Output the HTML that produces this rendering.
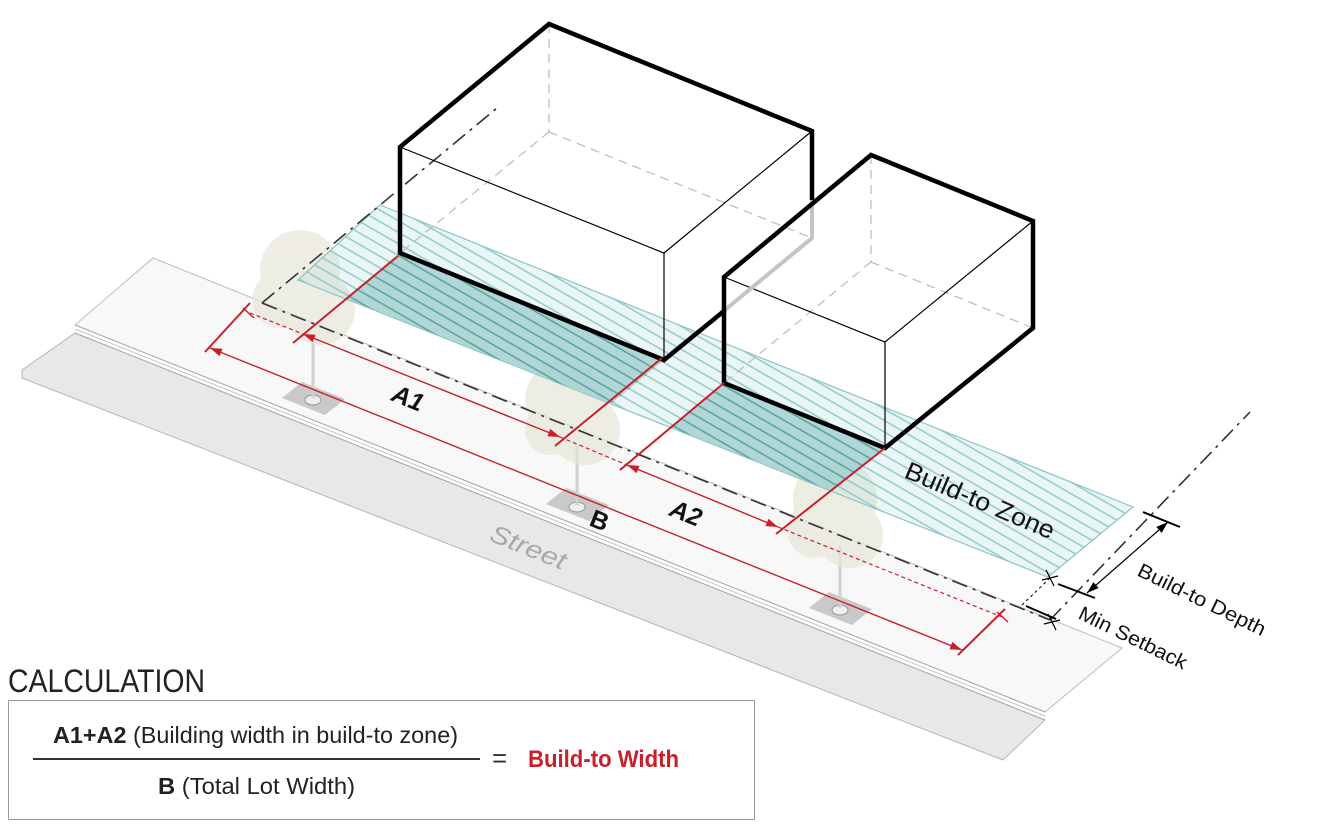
<!DOCTYPE html>
<html><head><meta charset="utf-8"><style>
html,body{margin:0;padding:0;background:#fff;width:1324px;height:825px;overflow:hidden}
svg{display:block}
</style></head><body>
<svg width="1324" height="825" viewBox="0 0 1324 825" xmlns="http://www.w3.org/2000/svg" font-family="'Liberation Sans',sans-serif">
<defs>
<pattern id="hl" patternUnits="userSpaceOnUse" width="10" height="10" patternTransform="rotate(30)">
<rect width="10" height="10" fill="rgba(170,215,215,0.25)"/><line x1="0" y1="2" x2="10" y2="2" stroke="#8cc6c6" stroke-width="1.4"/></pattern>
<pattern id="hd" patternUnits="userSpaceOnUse" width="10" height="10" patternTransform="rotate(30)">
<rect width="10" height="10" fill="#a9d3d2"/><line x1="0" y1="2" x2="10" y2="2" stroke="#509c9a" stroke-width="1.5"/></pattern>
<marker id="ar" markerWidth="12" markerHeight="8" refX="12" refY="4" orient="auto" markerUnits="userSpaceOnUse"><path d="M0,0 L12,4 L0,8z" fill="#c8202a"/></marker>
<marker id="al" markerWidth="12" markerHeight="8" refX="0" refY="4" orient="auto" markerUnits="userSpaceOnUse"><path d="M12,0 L0,4 L12,8z" fill="#c8202a"/></marker>
<marker id="kr" markerWidth="12" markerHeight="8" refX="12" refY="4" orient="auto" markerUnits="userSpaceOnUse"><path d="M0,0 L12,4 L0,8z" fill="#000"/></marker>
<marker id="kl" markerWidth="12" markerHeight="8" refX="0" refY="4" orient="auto" markerUnits="userSpaceOnUse"><path d="M12,0 L0,4 L12,8z" fill="#000"/></marker>
</defs>

<!-- street -->
<polygon points="22,370 75,333 1045,720 1003,760 22,378" fill="#e9e8e6" stroke="#b5b5b5"/>
<polygon points="75,325 153,258 1122,648 1045,712" fill="#f8f8f8" stroke="#bdbdbd"/>
<line x1="75" y1="325" x2="1045" y2="712" stroke="#aaa"/>
<line x1="75" y1="329" x2="1045" y2="716" stroke="#c4c4c4"/>
<line x1="75" y1="333" x2="1045" y2="720" stroke="#aaa"/>
<text x="0" y="0" transform="translate(488,540) rotate(22)" font-size="25" fill="#a8a8a8" font-style="italic" textLength="80" lengthAdjust="spacingAndGlyphs">Street</text>

<!-- tree pits -->
<g fill="#c9c9c9">
<polygon points="282,398 302,382 345,399 325,415"/>
<polygon points="546,504 566,488 609,505 589,521"/>
<polygon points="809,608 829,592 872,609 852,625"/>
</g>
<g fill="#eee" stroke="#999"><ellipse cx="313" cy="400" rx="8" ry="5"/><ellipse cx="577" cy="507" rx="8" ry="5"/><ellipse cx="840" cy="610" rx="8" ry="5"/></g>
<g stroke="#d0d0d0" stroke-width="3"><line x1="313" y1="335" x2="313" y2="398"/><line x1="577" y1="445" x2="577" y2="505"/><line x1="840" y1="545" x2="840" y2="608"/></g>

<!-- building faces white -->
<polygon points="400,147 549,24 812,131 812,238 664,360 400,253" fill="#fff"/>
<polygon points="724,277 871,155 1033,221 1033,328 885,448 724,383" fill="#fff"/>

<!-- trees -->
<g fill="#e8e6da" opacity="0.7">
<circle cx="300" cy="270" r="40"/><circle cx="320" cy="310" r="35"/><circle cx="280" cy="300" r="28"/>
<circle cx="565" cy="400" r="40"/><circle cx="585" cy="430" r="35"/><circle cx="550" cy="430" r="25"/>
<circle cx="835" cy="500" r="42"/><circle cx="850" cy="535" r="33"/><circle cx="815" cy="530" r="28"/>
</g>

<!-- build-to zone -->
<polygon points="298,280 380,205 1133,507 1048,577" fill="url(#hl)" stroke="#8cc4c4" stroke-width="1.2"/>
<polygon points="400,253 664,360 611,404 345,298" fill="url(#hd)" opacity="0.9"/>
<polygon points="724,383 885,448 832,491 670,427" fill="url(#hd)" opacity="0.9"/>
<text transform="translate(903,477) rotate(23)" font-size="25" fill="#111" textLength="160" lengthAdjust="spacingAndGlyphs">Build-to Zone</text>

<!-- dash-dot lines -->
<g stroke="#333" stroke-width="1.6" fill="none" stroke-dasharray="16 6 3 6">
<line x1="262" y1="303" x2="497" y2="108"/>
<line x1="262" y1="303" x2="1050" y2="620"/>
<line x1="1050" y1="620" x2="1250" y2="412"/>
</g>

<!-- buildings -->
<g fill="none" stroke-linejoin="miter">
<g stroke="#bbb" stroke-width="1.2" stroke-dasharray="9 6">
<line x1="549" y1="24" x2="549" y2="132"/><line x1="549" y1="132" x2="400" y2="253"/><line x1="549" y1="132" x2="812" y2="238"/>
<line x1="871" y1="155" x2="871" y2="262"/><line x1="871" y1="262" x2="724" y2="383"/><line x1="871" y1="262" x2="1033" y2="328"/>
</g>
<g stroke="#000" stroke-width="1.2">
<polyline points="400,147 664,253 812,131"/><line x1="664" y1="253" x2="664" y2="360"/>
<polyline points="724,277 885,342 1033,221"/><line x1="885" y1="342" x2="885" y2="448"/>
</g>
<polyline points="812,200 812,238 720,314" stroke="#c4c4c4" stroke-width="4"/>
<polyline points="812,200 812,131 549,24 400,147 400,253 664,360 724,311" stroke="#000" stroke-width="4.5"/>
<polygon points="724,277 871,155 1033,221 1033,328 885,448 724,383" stroke="#000" stroke-width="4.5"/>
</g>

<!-- red dimensions -->
<g stroke="#c8202a" fill="none">
<line x1="398" y1="256" x2="293" y2="343" stroke-width="2"/>
<line x1="662" y1="358" x2="555" y2="446" stroke-width="2"/>
<line x1="724" y1="383" x2="620" y2="470" stroke-width="2"/>
<line x1="885" y1="448" x2="776" y2="534" stroke-width="2"/>
<line x1="250" y1="303" x2="205" y2="352" stroke-width="2"/>
<line x1="1005" y1="609" x2="958" y2="655" stroke-width="2"/>
<line x1="243" y1="308" x2="254" y2="318" stroke-width="1.5"/>
<line x1="997" y1="612" x2="1008" y2="622" stroke-width="1.5"/>
<g stroke-width="1.2" stroke-dasharray="4 3">
<line x1="250" y1="313" x2="303" y2="334"/><line x1="560" y1="437" x2="627" y2="465"/><line x1="778" y1="527" x2="1002" y2="617"/>
</g>
<line x1="210" y1="348" x2="962" y2="650" stroke-width="1.4" marker-start="url(#al)" marker-end="url(#ar)"/>
<line x1="303" y1="334" x2="560" y2="437" stroke-width="1.4" marker-start="url(#al)" marker-end="url(#ar)"/>
<line x1="627" y1="465" x2="778" y2="527" stroke-width="1.4" marker-start="url(#al)" marker-end="url(#ar)"/>
</g>
<g font-weight="bold" font-style="italic" font-size="25" fill="#111">
<text transform="translate(390,400) rotate(22)">A1</text>
<text transform="translate(668,515) rotate(22)">A2</text>
<text transform="translate(588,525) rotate(22)" font-style="normal">B</text>
</g>

<!-- black dims -->
<g stroke="#000" fill="none">
<line x1="1026" y1="606" x2="1056" y2="619" stroke-width="2"/>
<line x1="1058" y1="584" x2="1095" y2="598" stroke-width="2"/>
<line x1="1143" y1="512" x2="1180" y2="527" stroke-width="2"/>
<line x1="1168" y1="522" x2="1087" y2="593" stroke-width="1.2" marker-start="url(#kl)" marker-end="url(#kr)"/>
<line x1="1046" y1="570" x2="1054" y2="586" stroke-width="1.2"/><line x1="1042" y1="580" x2="1058" y2="576" stroke-width="1.2"/>
<line x1="1048" y1="614" x2="1056" y2="630" stroke-width="1.2"/><line x1="1044" y1="624" x2="1060" y2="620" stroke-width="1.2"/>
<line x1="1050" y1="578" x2="1022" y2="605" stroke-width="1" stroke-dasharray="3 3"/>
</g>
<text transform="translate(1136,575) rotate(26)" font-size="20" fill="#111" textLength="140" lengthAdjust="spacingAndGlyphs">Build-to Depth</text>
<text transform="translate(1077,618) rotate(26)" font-size="20" fill="#111" textLength="118" lengthAdjust="spacingAndGlyphs">Min Setback</text>

<!-- calculation -->
<text x="8" y="692" font-size="32" fill="#222" textLength="197" lengthAdjust="spacingAndGlyphs">CALCULATION</text>
<rect x="8.5" y="700.5" width="746" height="119" fill="#fff" stroke="#999"/>
<text x="53" y="743" font-size="23" fill="#222" textLength="405" lengthAdjust="spacingAndGlyphs"><tspan font-weight="bold">A1+A2</tspan> (Building width in build-to zone)</text>
<line x1="33" y1="759" x2="480" y2="759" stroke="#333" stroke-width="2"/>
<text x="158" y="794" font-size="23" fill="#222" textLength="197" lengthAdjust="spacingAndGlyphs"><tspan font-weight="bold">B</tspan>  (Total Lot Width)</text>
<text x="492" y="767" font-size="26" fill="#333">=</text>
<text x="528" y="767" font-size="24" font-weight="bold" fill="#c8202a" textLength="151" lengthAdjust="spacingAndGlyphs">Build-to Width</text>
</svg>
</body></html>
